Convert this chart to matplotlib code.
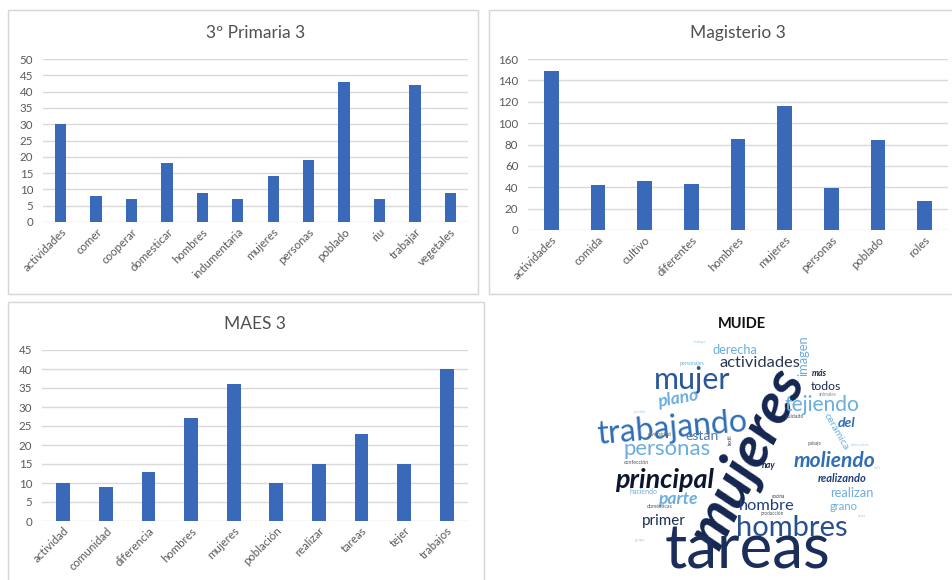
import matplotlib.pyplot as plt
from matplotlib.patches import Rectangle

plt.rcParams['font.family'] = ['Lato', 'DejaVu Sans']

# word counts per group
prim_words = ['actividades', 'comer', 'cooperar', 'domesticar', 'hombres', 'indumentaria',
              'mujeres', 'personas', 'poblado', 'riu', 'trabajar', 'vegetales']
prim_counts = [30, 8, 7, 18, 9, 7, 14, 19, 43, 7, 42, 9]

mag_words = ['actividades', 'comida', 'cultivo', 'diferentes', 'hombres', 'mujeres',
             'personas', 'poblado', 'roles']
mag_counts = [149, 42, 46, 43, 85, 116, 39, 84, 27]

maes_words = ['actividad', 'comunidad', 'diferencia', 'hombres', 'mujeres', 'población',
              'realizar', 'tareas', 'tejer', 'trabajos']
maes_counts = [10, 9, 13, 27, 36, 10, 15, 23, 15, 40]

# MUIDE word cloud: word, weight
cloud_words = ['mujeres', 'tareas', 'mujer', 'trabajando', 'hombres', 'principal', 'personas',
               'moliendo', 'tejiendo', 'actividades', 'hombre', 'primer', 'plano', 'parte',
               'derecha', 'imagen', 'realizan', 'realizando', 'del', 'están', 'todos', 'grano',
               'más', 'hay', 'cerámica', 'diversidad', 'confección', 'haciendo', 'domésticas',
               'cocina', 'producción', 'cuidado', 'animales', 'personajes',
               'textil', 'paisaje', 'trabajo', 'elementos', 'pueblo', 'tejer', 'vida', 'grupo']
cloud_weights = [100, 106, 52, 55, 50, 46, 38, 36, 36, 28, 28, 26, 30, 30,
                 22, 22, 22, 19, 24, 24, 21, 19, 15, 15, 18, 9, 9, 12, 9, 8, 8, 9, 8, 9,
                 8, 8, 7, 7, 7, 7, 7, 7]

BLUE = '#3b69b9'
GREY = '#595959'
GRID = '#d9d9d9'

fig = plt.figure(figsize=(9.52, 5.80), dpi=100)


def px(x, y, w, h):
    # pixel box (top-left origin) -> figure fraction rect
    return [x / 952, 1 - (y + h) / 580, w / 952, h / 580]


def panel(box):
    fig.add_artist(Rectangle((box[0], box[1]), box[2], box[3], transform=fig.transFigure,
                             fill=False, edgecolor='#d6d6d6', linewidth=1.0))


def bar_chart(rect, words, counts, ymax, step, title, title_y):
    ax = fig.add_axes(rect)
    ax.bar(range(len(words)), counts, width=0.32, color=BLUE, zorder=3)
    ax.set_xlim(-0.5, len(words) - 0.5)
    ax.set_ylim(0, ymax)
    ax.set_yticks(range(0, ymax + 1, step))
    ax.yaxis.grid(True, color=GRID, linewidth=1.0, zorder=0)
    for s in ax.spines.values():
        s.set_visible(False)
    ax.tick_params(axis='y', length=0, labelsize=8.3, labelcolor=GREY, pad=7)
    ax.tick_params(axis='x', length=0, labelsize=8.3, labelcolor=GREY, pad=3)
    ax.set_xticks(range(len(words)))
    ax.set_xticklabels(words, rotation=45, ha='right', rotation_mode='anchor')
    fig.text(rect[0] + rect[2] / 2, title_y, title, ha='center', va='center',
             fontsize=12.5, color='#505050')
    return ax


panel(px(8, 10, 470, 284))
panel(px(489, 10, 470, 284))
panel(px(8, 302, 476, 290))

bar_chart(px(43, 59, 425, 163), prim_words, prim_counts, 50, 5, '3º Primaria 3', 1 - 33 / 580)
bar_chart(px(528, 59, 420, 171), mag_words, mag_counts, 160, 20, 'Magisterio 3', 1 - 33 / 580)
bar_chart(px(42, 350, 426, 171), maes_words, maes_counts, 45, 5, 'MAES 3', 1 - 324 / 580)

# word cloud drawn in pixel coordinates
wc = fig.add_axes([0, 0, 1, 1])
wc.set_xlim(0, 952)
wc.set_ylim(580, 0)
wc.axis('off')
wc.patch.set_alpha(0)

wc.text(742, 324, 'MUIDE', ha='center', va='center', fontsize=10.5, fontweight='bold', color='#111111')

NAVY = '#14264f'
DARK = '#1f3f7a'
MID = '#2f6db5'
LIGHT = '#6aaede'
PALE = '#a9cbe6'
# x, y, rotation, colour, bold-italic
layout = [
    (748, 458, 63, NAVY, True),
    (748, 551, 0, '#1b2d5a', False),
    (692, 380, 0, '#2b5796', False),
    (672, 428, 5, MID, False),
    (792, 528, 0, '#27508f', False),
    (664, 480, 0, '#0c1630', True),
    (667, 449, 0, LIGHT, False),
    (834, 461, 0, MID, True),
    (822, 405, 0, LIGHT, False),
    (760, 363, 0, '#2a3552', False),
    (767, 506, 0, DARK, False),
    (664, 521, 0, '#1d2c52', False),
    (678, 399, 10, LIGHT, True),
    (678, 499, 0, LIGHT, True),
    (735, 350, 0, LIGHT, False),
    (803, 356, 90, LIGHT, False),
    (852, 493, 0, LIGHT, False),
    (842, 478, 0, DARK, True),
    (847, 423, 0, MID, True),
    (702, 436, 0, '#5577a8', False),
    (826, 387, 0, '#1d2c52', False),
    (844, 506, 0, LIGHT, False),
    (819, 373, 0, NAVY, True),
    (769, 465, 0, NAVY, True),
    (836, 432, -60, LIGHT, False),
    (660, 435, 0, '#666666', False),
    (636, 463, 0, '#555566', False),
    (643, 492, 0, LIGHT, False),
    (660, 507, 0, '#555566', False),
    (778, 497, 0, '#333344', False),
    (772, 514, 0, '#555566', False),
    (795, 416, 0, '#555566', False),
    (828, 394, 0, '#888899', False),
    (692, 364, 0, LIGHT, False),
    (730, 440, 90, '#2a3552', False),
    (815, 444, 0, '#555566', False),
    (700, 342, 0, PALE, False),
    (860, 445, 0, PALE, False),
    (640, 412, 0, PALE, False),
    (862, 516, 0, PALE, False),
    (878, 468, 0, PALE, False),
    (640, 540, 0, PALE, False),
]
for word, w, (x, y, rot, col, bi) in zip(cloud_words, cloud_weights, layout):
    wc.text(x, y, word, ha='center', va='center', rotation=rot, color=col,
            fontsize=w * 0.42, fontweight='bold' if bi else 'normal',
            style='italic' if bi else 'normal')

fig.savefig('out.png', dpi=100, facecolor='white')
